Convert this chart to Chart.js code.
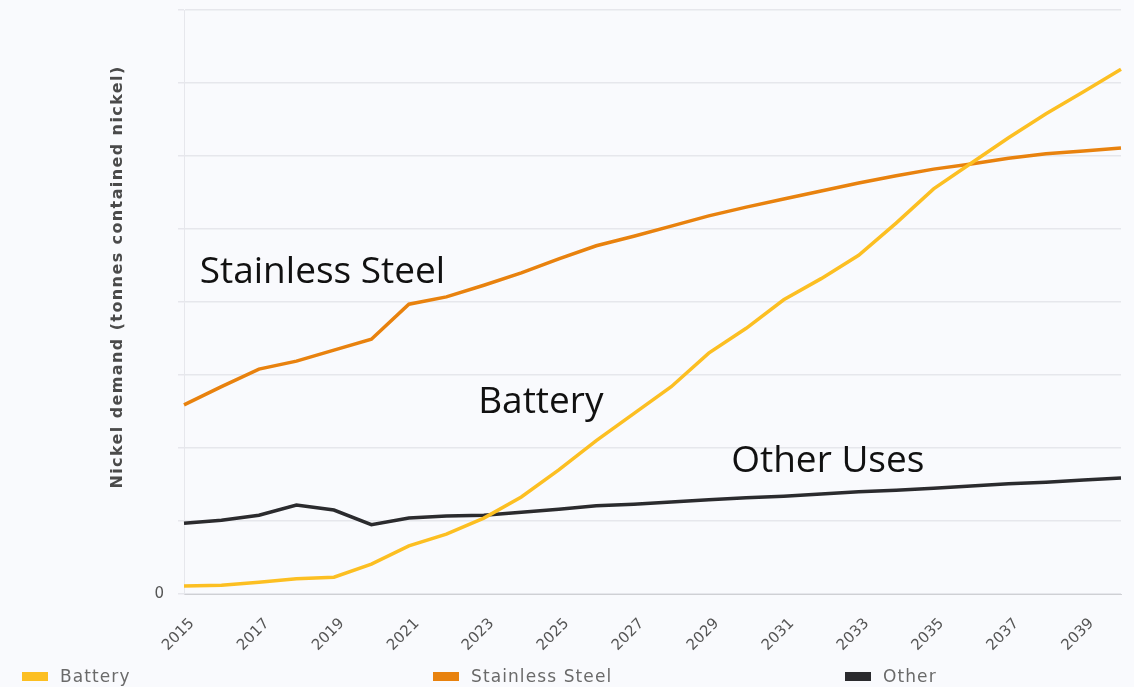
<!DOCTYPE html>
<html>
<head>
<meta charset="utf-8">
<script src="https://cdn.jsdelivr.net/npm/chart.js@4.4.0/dist/chart.umd.min.js"></script>
<style>
  html, body { margin: 0; padding: 0; background: #f9fafd; }
  #wrap { position: relative; width: 1134px; height: 687px; }
  #legend { position: absolute; left: 0; top: 666px; width: 1134px; height: 20px; }
  .item { position: absolute; top: 0; display: flex; align-items: center;
          font-family: "DejaVu Sans", sans-serif; font-size: 17px; color: #6a6a6a; letter-spacing: 1.1px; }
  .box { width: 26px; height: 9px; margin-right: 12px; }
</style>
</head>
<body>
<div id="wrap">
  <canvas id="c" width="1134" height="687"></canvas>
  <div id="legend"></div>
</div>
<script>
const years = ["2015","2016","2017","2018","2019","2020","2021","2022","2023","2024","2025","2026","2027","2028","2029","2030","2031","2032","2033","2034","2035","2036","2037","2038","2039","2040"];
const battery = [0.11,0.12,0.16,0.21,0.23,0.41,0.66,0.82,1.04,1.33,1.70,2.10,2.47,2.84,3.30,3.64,4.03,4.32,4.64,5.08,5.55,5.90,6.25,6.58,6.88,7.19];
const stainless = [2.59,2.84,3.08,3.19,3.34,3.49,3.97,4.07,4.23,4.40,4.59,4.77,4.90,5.04,5.18,5.30,5.41,5.52,5.63,5.73,5.82,5.89,5.97,6.03,6.07,6.11];
const other = [0.97,1.01,1.08,1.22,1.15,0.95,1.04,1.07,1.08,1.12,1.16,1.21,1.23,1.26,1.29,1.32,1.34,1.37,1.40,1.42,1.45,1.48,1.51,1.53,1.56,1.59];
const seriesNames = ["Battery","Stainless Steel","Other"];
const seriesColors = ["#fcbf22","#e8820e","#2b2b2e"];
const yTickLabels = {0: "0"};
const yTitle = "Nickel demand (tonnes contained nickel)";
const annotations = [
  {text: "Stainless Steel", x: 0.42, y: 4.40},
  {text: "Battery", x: 7.85, y: 2.62},
  {text: "Other Uses", x: 14.6, y: 1.81}
];

const annPlugin = {
  id: 'ann',
  afterDatasetsDraw(chart) {
    const ctx = chart.ctx, xs = chart.scales.x, ys = chart.scales.y;
    ctx.save();
    ctx.fillStyle = '#111';
    ctx.font = '37px "Open Sans", sans-serif';
    ctx.textBaseline = 'middle';
    ctx.textAlign = 'left';
    annotations.forEach(a => {
      ctx.fillText(a.text, xs.getPixelForValue(a.x), ys.getPixelForValue(a.y));
    });
    // y-axis title
    ctx.translate(118, 277);
    ctx.rotate(-Math.PI / 2);
    ctx.textAlign = 'center';
    ctx.fillStyle = '#4a4a4a';
    ctx.font = 'bold 16px "DejaVu Sans", sans-serif';
    try { ctx.letterSpacing = '1.4px'; } catch (e) {}
    ctx.fillText(yTitle, 0, 0);
    ctx.restore();
  }
};

new Chart(document.getElementById('c'), {
  type: 'line',
  data: {
    labels: years,
    datasets: [battery, stainless, other].map((d, i) => ({
      label: seriesNames[i], data: d, borderColor: seriesColors[i], backgroundColor: seriesColors[i],
      borderWidth: 3.5, pointRadius: 0, tension: 0, fill: false
    }))
  },
  options: {
    responsive: false, animation: false,
    layout: { padding: { left: 109, right: 13, top: 10, bottom: 0 } },
    plugins: { legend: { display: false }, tooltip: { enabled: false } },
    scales: {
      x: {
        grid: { display: false },
        border: { display: true, color: '#cfd0d4', width: 1 },
        ticks: {
          autoSkip: false, maxRotation: 45, minRotation: 45, padding: 13, labelOffset: 8,
          color: '#555', font: { family: '"DejaVu Sans", sans-serif', size: 15 },
          callback: (v, i) => (i % 2 === 0 ? years[i] : '')
        },
        afterFit: s => { s.height = 93; s.paddingLeft = 0; s.paddingRight = 0; }
      },
      y: {
        min: 0, max: 8,
        grid: { color: '#e6e7ec', tickLength: 6, lineWidth: 1.5 },
        border: { display: true, color: '#e6e7ec' },
        ticks: {
          stepSize: 1, padding: 14, color: '#555',
          font: { family: '"DejaVu Sans", sans-serif', size: 15 },
          callback: v => (yTickLabels[v] !== undefined ? yTickLabels[v] : '')
        },
        afterFit: s => { s.width = 75; s.paddingTop = 0; s.paddingBottom = 0; }
      }
    }
  },
  plugins: [annPlugin]
});

const lg = document.getElementById('legend');
const lefts = [22, 433, 845];
seriesNames.forEach((n, i) => {
  const d = document.createElement('div');
  d.className = 'item';
  d.style.left = lefts[i] + 'px';
  d.innerHTML = '<span class="box" style="background:' + seriesColors[i] + '"></span><span>' + n + '</span>';
  lg.appendChild(d);
});
</script>
</body>
</html>
